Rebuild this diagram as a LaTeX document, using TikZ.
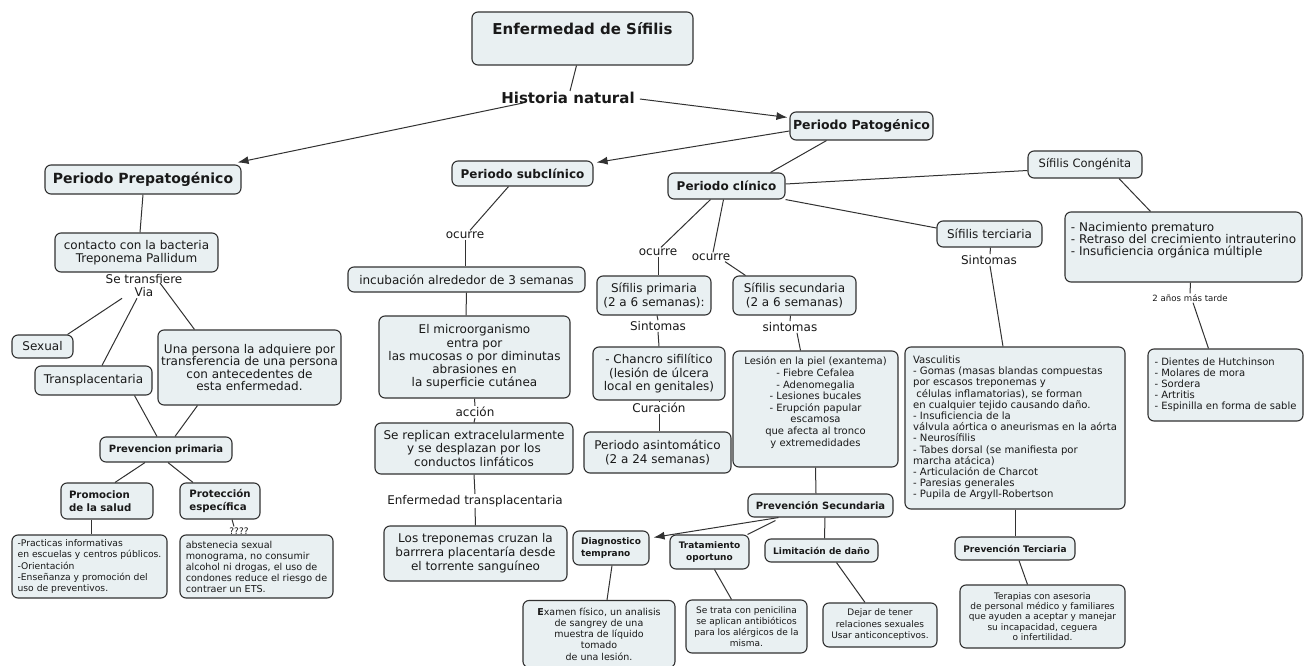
\documentclass[tikz,border=0pt]{standalone}
\usepackage{fontspec}
\setmainfont{DejaVu Sans}
\usetikzlibrary{arrows.meta}
\definecolor{boxfill}{RGB}{233,240,242}
\definecolor{boxline}{RGB}{50,50,50}
\definecolor{ink}{RGB}{25,25,25}
\tikzset{
  box/.style={draw=boxline, fill=boxfill, rounded corners=6pt, line width=1.1pt, inner sep=2pt, text=ink},
  lbl/.style={inner sep=1pt, text=ink},
  con/.style={draw=boxline, line width=1pt},
  arr/.style={con, -{Latex[length=11pt,width=8pt]}},
  fz/.style 2 args={font=\fontsize{#1}{#2}\selectfont},
  fzb/.style 2 args={font=\fontsize{#1}{#2}\selectfont\bfseries},
}
\begin{document}
\begin{tikzpicture}[x=1pt,y=-1pt]
\fill[white] (0,0) rectangle (1307,666);
\useasboundingbox (0,0) rectangle (1307,666);

% top
\node[box, minimum width=221pt, minimum height=53pt] (title) at (582.5,38.5) {};
\node[lbl, fzb={15}{18}] (titlet) at (582.5,29) {Enfermedad de Sífilis};
\node[lbl, fzb={15}{18}] (hist) at (568,98) {Historia natural};
\node[box, fzb={12.5}{15}, minimum width=143pt, minimum height=28pt] (pato) at (861.5,126) {Periodo Patogénico};
\node[box, fzb={14}{16}, minimum width=196pt, minimum height=29pt] (prepato) at (143,179.5) {Periodo Prepatogénico};
\node[box, fzb={12}{14}, minimum width=141pt, minimum height=25pt] (subcl) at (522.5,173.5) {Periodo subclínico};
\node[box, fzb={12}{14}, minimum width=117pt, minimum height=26pt] (clin) at (726.5,186) {Periodo clínico};
\node[box, fz={11.5}{14}, minimum width=114pt, minimum height=27pt] (cong) at (1085,164.5) {Sífilis Congénita};
\node[box, fz={12}{14}, minimum width=105pt, minimum height=26pt] (terc) at (989.5,234) {Sífilis terciaria};

% congenita
\node[box, fz={12}{12.4}, align=left, minimum width=237pt, minimum height=70pt] (conglist) at (1183.5,247)
  {- Nacimiento prematuro\\- Retraso del crecimiento intrauterino\\- Insuficiencia orgánica múltiple\\ \strut};
\node[lbl, fz={8.6}{11}] (anos) at (1190,298) {2 años más tarde};
\node[box, fz={10}{11}, align=left, minimum width=155pt, minimum height=72pt] (hutch) at (1225.5,385)
  {- Dientes de Hutchinson\\- Molares de mora\\- Sordera\\- Artritis\\- Espinilla en forma de sable};

% left branch
\node[box, fz={12}{13.5}, align=center, minimum width=163pt, minimum height=39pt] (contacto) at (136.5,252.5)
  {contacto con la bacteria\\Treponema Pallidum};
\node[lbl, fz={12}{13}, align=center] (setrans) at (144,286) {Se transfiere\\Via};
\node[box, fz={12}{14}, minimum width=61pt, minimum height=23pt] (sexual) at (42.5,346.5) {Sexual};
\node[box, fz={12}{14}, minimum width=117pt, minimum height=29pt] (transpl) at (93.5,380.5) {Transplacentaria};
\node[box, fz={12}{12.5}, align=center, minimum width=183pt, minimum height=75pt] (persona) at (249.5,367.5)
  {Una persona la adquiere por\\transferencia de una persona\\con antecedentes de\\esta enfermedad.};
\node[box, fzb={10}{12}, minimum width=132pt, minimum height=25pt] (prevprim) at (166,449.5) {Prevencion primaria};
\node[box, fzb={10.2}{12.5}, align=left, text width=76pt, inner xsep=8pt, minimum height=36pt] (promo) at (107,501)
  {Promocion\\de la salud};
\node[box, fzb={10.2}{12.5}, align=left, minimum width=80pt, minimum height=36pt] (protec) at (220,501)
  {Protección\\específica};
\node[lbl, fz={9}{11}] (qmarks) at (239,531) {????};
\node[box, fz={9.2}{11.3}, align=left, minimum width=155pt, minimum height=63pt] (promotxt) at (89.5,566.5)
  {-Practicas informativas\\en escuelas y centros públicos.\\-Orientación\\-Enseñanza y promoción del\\uso de preventivos.};
\node[box, fz={9.6}{11}, align=left, minimum width=153pt, minimum height=63pt] (protectxt) at (256.5,566.5)
  {abstenecia sexual\\monograma, no consumir\\alcohol ni drogas, el uso de\\condones reduce el riesgo de\\contraer un ETS.};

% subclinico branch
\node[lbl, fz={12}{14}] (ocurreA) at (465,235) {ocurre};
\node[box, fz={12}{14}, minimum width=237pt, minimum height=25pt] (incub) at (466.5,279.5) {incubación alrededor de 3 semanas};
\node[box, fz={12}{13.3}, align=center, minimum width=191pt, minimum height=82pt] (micro) at (474.5,357)
  {El microorganismo\\entra por\\las mucosas o por diminutas\\abrasiones en\\la superficie cutánea};
\node[lbl, fz={12}{14}] (accion) at (475,412) {acción};
\node[box, fz={12}{13.5}, align=center, minimum width=198pt, minimum height=51pt] (replican) at (474,448.5)
  {Se replican extracelularmente\\y se desplazan por los\\conductos linfáticos};
\node[lbl, fz={12}{14}] (enftrans) at (475,501) {Enfermedad transplacentaria};
\node[box, fz={12}{14}, align=center, minimum width=183pt, minimum height=55pt] (trepon) at (475.5,553.5)
  {Los treponemas cruzan la\\barrrera placentaría desde\\el torrente sanguíneo};

% clinico branch
\node[lbl, fz={12}{14}] (ocurreB) at (658,252) {ocurre};
\node[lbl, fz={12}{14}] (ocurreC) at (711,257) {ocurre};
\node[box, fz={12}{14}, align=center, minimum width=114pt, minimum height=39pt] (prim) at (654,295.5)
  {Sífilis primaria\\(2 a 6 semanas):};
\node[box, fz={12}{14}, align=center, minimum width=123pt, minimum height=39pt] (secu) at (794.5,295.5)
  {Sífilis secundaria\\(2 a 6 semanas)};
\node[lbl, fz={12}{14}] (sintA) at (658,326) {Sintomas};
\node[lbl, fz={12}{14}] (sintB) at (790,327) {sintomas};
\node[box, fz={12}{13.5}, align=center, minimum width=132pt, minimum height=53pt] (chancro) at (659,373.5)
  {- Chancro sifilítico\\(lesión de úlcera\\local en genitales)};
\node[lbl, fz={12}{14}] (curacion) at (659,407.5) {Curación};
\node[box, fz={12}{14}, align=center, minimum width=147pt, minimum height=41pt] (asint) at (657.5,452.5)
  {Periodo asintomático\\(2 a 24 semanas)};
\node[box, fz={10}{11.6}, align=center, minimum width=165pt, minimum height=116pt] (lesion) at (815.5,409)
  {Lesión en la piel (exantema)\\- Fiebre Cefalea\\- Adenomegalia\\- Lesiones bucales\\- Erupción papular\\escamosa\\que afecta al tronco\\y extremedidades\\ \strut};
\node[box, fzb={10}{12}, minimum width=145pt, minimum height=23pt] (prevsec) at (820.5,505.5) {Prevención Secundaria};
\node[box, fzb={9}{11.3}, align=left, minimum width=76pt, minimum height=34pt] (diag) at (611,548) {Diagnostico\\temprano};
\node[box, fzb={9}{11.3}, align=center, minimum width=79pt, minimum height=34pt] (trat) at (709.5,552) {Tratamiento\\oportuno};
\node[box, fzb={9}{11}, minimum width=113pt, minimum height=23pt] (limit) at (821.5,550.5) {Limitación de daño};
\node[box, fz={9.5}{11.2}, align=center, minimum width=152pt, minimum height=67pt] (examen) at (599,634)
  {\textbf{E}xamen físico, un analisis\\de sangrey de una\\muestra de líquido\\tomado\\de una lesión.};
\node[box, fz={9}{11}, align=center, minimum width=121pt, minimum height=53pt] (setrata) at (746.5,626.5)
  {Se trata con penicilina\\se aplican antibióticos\\para los alérgicos de la\\misma.};
\node[box, fz={9}{11.5}, align=center, minimum width=114pt, minimum height=44pt] (dejar) at (880,625)
  {Dejar de tener\\relaciones sexuales\\Usar anticonceptivos.};

% terciaria branch
\node[lbl, fz={12}{14}] (sintC) at (989,260) {Sintomas};
\node[box, fz={10.1}{11.2}, align=left, minimum width=220pt, minimum height=162pt] (vascu) at (1015,428)
  {Vasculitis\\- Gomas (masas blandas compuestas\\por escasos treponemas y\\\ células inflamatorias), se forman\\en cualquier tejido causando daño.\\- Insuficiencia de la\\válvula aórtica o aneurismas en la aórta\\- Neurosífilis\\- Tabes dorsal (se manifiesta por\\marcha atácica)\\- Articulación de Charcot\\- Paresias generales\\- Pupila de Argyll-Robertson};
\node[box, fzb={9}{11}, minimum width=120pt, minimum height=23pt] (prevter) at (1015,548.5) {Prevención Terciaria};
\node[box, fz={9}{10.4}, align=center, minimum width=165pt, minimum height=63pt] (terapias) at (1042.5,616.5)
  {Terapias con asesoria\\de personal médico y familiares\\que ayuden a aceptar y manejar\\su incapacidad, ceguera\\o infertilidad.};

% connectors
\draw[con] ([xshift=-6pt]title.south) -- ([xshift=2pt]hist.north);
\draw[arr] ([xshift=-45pt,yshift=2pt]hist.south) -- ([xshift=-4pt,yshift=2pt]prepato.north east);
\draw[arr] ([xshift=4pt,yshift=-1pt]hist.east) -- ([xshift=-2pt,yshift=-6pt]pato.north west);
\draw[arr] ([yshift=-5pt]pato.west) -- ([xshift=3pt,yshift=-2pt]subcl.north east);
\draw[con] ([xshift=-35pt]pato.south) -- ([xshift=44pt]clin.north);
\draw[con] ([yshift=2pt]clin.east) -- ([yshift=-6pt]cong.west);
\draw[con] (clin.south east) -- ([yshift=6pt]terc.west);
\draw[con] ([xshift=-16pt]clin.south) -- ([xshift=3pt]ocurreB.north);
\draw[con] (ocurreB.south) -- ([xshift=4pt]prim.north);
\draw[con] ([xshift=-3pt]clin.south) -- ([xshift=2pt]ocurreC.north);
\draw[con] ([xshift=14pt]ocurreC.south) -- ([xshift=-49pt]secu.north);
\draw[con] ([xshift=3pt]prim.south) -- (sintA.north);
\draw[con] (sintA.south) -- (chancro.north);
\draw[con] (chancro.south) -- (curacion.north);
\draw[con] (curacion.south) -- ([xshift=1.5pt]asint.north);
\draw[con] ([xshift=-4pt]secu.south) -- (sintB.north);
\draw[con] ([xshift=7pt]sintB.south) -- ([xshift=-15pt]lesion.north);
\draw[con] (lesion.south) -- ([xshift=-4.5pt]prevsec.north);
\draw[arr] ([xshift=-42pt]prevsec.south) -- ([xshift=4pt,yshift=-7pt]diag.north east);
\draw[con] ([xshift=-45pt,yshift=-3pt]prevsec.south) -- ([xshift=-2pt]trat.north east);
\draw[con] ([xshift=4.5pt]prevsec.south) -- ([xshift=3pt]limit.north);
\draw[con] ([xshift=1pt]diag.south) -- ([xshift=8pt]examen.north);
\draw[con] ([xshift=5pt]trat.south) -- ([xshift=-15pt]setrata.north);
\draw[con] ([xshift=15pt]limit.south) -- ([xshift=-15pt]dejar.north);
\draw[con] ([xshift=1pt]terc.south) -- ([xshift=1pt]sintC.north);
\draw[con] ([xshift=1pt]sintC.south) -- ([xshift=-12pt]vascu.north);
\draw[con] (vascu.south) -- (prevter.north);
\draw[con] ([xshift=4pt]prevter.south) -- ([xshift=-15pt]terapias.north);
\draw[con] ([xshift=34pt]cong.south) -- ([xshift=-33pt]conglist.north);
\draw[con] ([xshift=7pt]conglist.south) -- (anos.north);
\draw[con] ([xshift=3pt]anos.south) -- ([xshift=-17pt]hutch.north);

\draw[con] (prepato.south) -- ([xshift=3.5pt]contacto.north);
\draw[con] ([xshift=-22pt]setrans.south) -- ([xshift=25pt]sexual.north);
\draw[con] ([xshift=-7pt]setrans.south) -- ([xshift=8.5pt]transpl.north);
\draw[con] ([xshift=16pt,yshift=3pt]setrans.center) -- ([xshift=-55pt]persona.north);
\draw[con] ([xshift=41pt]transpl.south) -- ([xshift=-9pt]prevprim.north);
\draw[con] ([xshift=-52pt]persona.south) -- ([xshift=9pt]prevprim.north);
\draw[con] ([xshift=-21pt]prevprim.south) -- ([xshift=8pt]promo.north);
\draw[con] ([xshift=2pt]prevprim.south) -- ([xshift=-27pt]protec.north);
\draw[con] ([xshift=-16pt]promo.south) -- ([xshift=1.5pt]promotxt.north);
\draw[con] ([xshift=12pt]protec.south) -- ([xshift=-5pt]qmarks.north);

\draw[con] ([xshift=-14pt]subcl.south) -- ([xshift=5pt]ocurreA.north);
\draw[con] (ocurreA.south) -- ([xshift=-1.5pt]incub.north);
\draw[con] (incub.south) -- ([xshift=-8.5pt]micro.north);
\draw[con] (micro.south) -- (accion.north);
\draw[con] (accion.south) -- (replican.north);
\draw[con] (replican.south) -- (enftrans.north);
\draw[con] (enftrans.south) -- (trepon.north);
\end{tikzpicture}
\end{document}
